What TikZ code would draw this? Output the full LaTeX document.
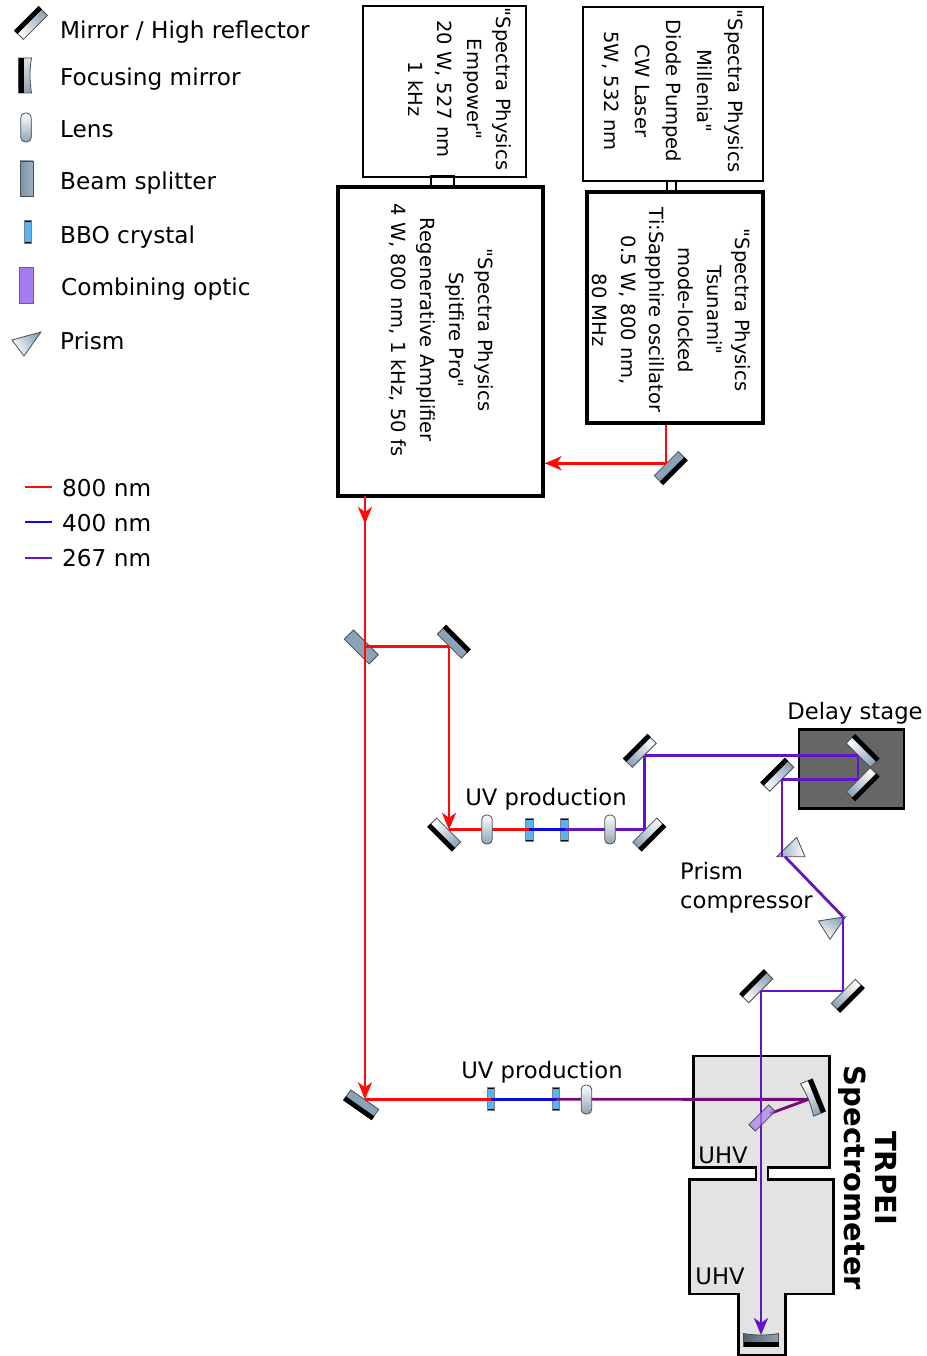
\documentclass[tikz,border=0pt]{standalone}
\usepackage{fontspec}
\setmainfont[Ligatures=TeXOff]{DejaVu Sans}
\usetikzlibrary{positioning, arrows.meta, calc}
\definecolor{steel}{HTML}{8BA3B6}
\definecolor{beamred}{HTML}{FF0A0A}
\definecolor{beamblue}{HTML}{0A0AE6}
\definecolor{beamviolet}{HTML}{6414C8}
\definecolor{beamplum}{HTML}{780A78}
\definecolor{crystal}{HTML}{55B5F5}
\definecolor{combiner}{HTML}{A67CF0}
\definecolor{chamber}{HTML}{E3E3E3}
\definecolor{stage}{HTML}{666666}
\tikzset{
  optic/.style={rectangle, inner sep=0pt, draw=black!70, line width=.8pt},
  hrflat/.style={optic, minimum width=34pt, minimum height=12.5pt, anchor=north, fill=steel, rotate=#1},
  hr/.style 2 args={optic, minimum width=34pt, minimum height=12.5pt, anchor=north, top color=steel, bottom color=white, shading angle=#2, rotate=#1},
  splitter/.style={optic, minimum width=35pt, minimum height=13pt, fill=steel, rotate=#1},
  lens/.style={optic, minimum width=10.5pt, minimum height=29pt, rounded corners=4.5pt, top color=white, bottom color=steel},
  bbo/.style={optic, draw=black!50, minimum width=7.5pt, minimum height=23pt, fill=crystal, path picture={
    \draw[black, line width=3pt] (path picture bounding box.north west) -- (path picture bounding box.north east);
    \draw[black, line width=3pt] (path picture bounding box.south west) -- (path picture bounding box.south east);}},
  combine/.style={optic, minimum width=28pt, minimum height=9pt, fill=combiner, fill opacity=.7},
  prism/.style={draw=black!70, line width=.8pt, top color=steel, bottom color=white, shading angle=#1},
  box/.style={draw, line width=#1, inner sep=0pt},
  caption/.style={font=\fontsize{22.7}{29}\selectfont, inner sep=0pt},
  keytext/.style={font=\fontsize{23.2}{29}\selectfont, inner sep=0pt, anchor=west},
  lasertext/.style={font=\fontsize{19.5}{#1}\selectfont, inner sep=0pt, rotate=-90, align=center},
  beam/.style={line width=2.8pt, #1},
  tip/.style={-{Stealth[length=17pt, width=14pt, inset=5pt]}},
  focusing/.pic={
    \draw[draw=black!70, line width=.8pt, shade, #1]
      (-6.5,-17.5) -- (6.5,-17.5) .. controls (4.5,-6) and (4.5,6) .. (6.5,17.5) -- (-6.5,17.5) -- cycle;
    \fill[black] (-6.5,-17.5) rectangle (-1.5,17.5);
    \coordinate (-face) at (5,0);
  },
}
\begin{document}
\begin{tikzpicture}[x=1pt, y=-1pt]
  \useasboundingbox (0,0) rectangle (926,1356);
  % legend
  \node[hr={-135}{-45}, anchor=center] (keymirror) at (31,23) {};
  \pic (keyfocus) at (25,75.5) {focusing={top color=steel!30, bottom color=steel}};
  \node[lens] (keylens) at (26,127.5) {};
  \node[splitter=0, minimum width=13pt, minimum height=35pt, left color=steel!90!black, right color=steel!85] (keysplit) at (26.5,178.5) {};
  \node[bbo] (keybbo) at (28,232) {};
  \node[combine, minimum width=14pt, minimum height=36pt, fill opacity=1, draw=black!60] (keycomb) at (26,285) {};
  \path[prism=-60] (12,340) -- (41,332) -- (24,356) -- cycle;
  \node[keytext] (labmirror) at (60,32) {Mirror / High reflector};
  \node[keytext] (labfocus) at (60,79) {Focusing mirror};
  \node[keytext] (lablens) at (60,129) {Lens};
  \node[keytext] (labsplit) at (60,183) {Beam splitter};
  \node[keytext] (labbbo) at (60,237) {BBO crystal};
  \node[keytext] (labcomb) at (61,289) {Combining optic};
  \node[keytext] (labprism) at (60,341) {Prism};
  \coordinate (redkey) at (25,487);
  \coordinate (bluekey) at (25,522);
  \coordinate (violetkey) at (25,558);
  \node[keytext] (labred) at (62,488) {800 nm};
  \node[keytext] (labblue) at (62,523) {400 nm};
  \node[keytext] (labviolet) at (62,558) {267 nm};
  \draw[beam=beamred] (redkey) -- ++(27,0);
  \draw[beam=beamblue] (bluekey) -- ++(27,0);
  \draw[beam=beamviolet] (violetkey) -- ++(27,0);

  % lasers
  \node[box=2pt, minimum width=23pt, minimum height=11pt] (pumplink) at (442.5,182) {};
  \node[box=2pt, minimum width=9pt, minimum height=12pt] (seedlink) at (671.5,187) {};
  \node[box=2.2pt, minimum width=163pt, minimum height=171pt] (empower) at (444.5,91.5) {};
  \node[box=2.2pt, minimum width=180pt, minimum height=174pt] (millenia) at (673,94) {};
  \node[box=3.2pt, minimum width=205pt, minimum height=309pt] (spitfire) at (440.5,341.5) {};
  \node[box=3.2pt, minimum width=176pt, minimum height=231pt] (tsunami) at (675,307.5) {};
  \node[lasertext=29.3] (empowertext) at (460,89) {"Spectra Physics\\Empower"\\20 W, 527 nm\\1 kHz};
  \node[lasertext=31] (milleniatext) at (673,91) {"Spectra Physics\\Millenia"\\Diode Pumped\\CW Laser\\5W, 532 nm};
  \node[lasertext=29] (spitfiretext) at (441,330) {"Spectra Physics\\Spitfire Pro"\\Regenerative Amplifier\\4 W, 800 nm, 1 kHz, 50 fs};
  \node[lasertext=28.6] (tsunamitext) at (671.5,310) {"Spectra Physics\\Tsunami"\\mode-locked\\Ti:Sapphire oscillator\\0.5 W, 800 nm,\\80 MHz};

  % vacuum chambers and delay stage
  \path[draw, line width=2.4pt, fill=chamber] (693.5,1056) -- (829.5,1056) -- (829.5,1167.5) -- (768,1167.5) -- (768,1179.5)
    -- (833.5,1179.5) -- (833.5,1294) -- (785.5,1294) -- (785.5,1355) -- (738.5,1355) -- (738.5,1294)
    -- (689.5,1294) -- (689.5,1179.5) -- (756,1179.5) -- (756,1167.5) -- (693.5,1167.5) -- cycle;
  \node[box=2.4pt, fill=stage, minimum width=105pt, minimum height=79pt] (delay) at (851.5,769) {};

  % mirrors
  \node[hrflat=45] (seedfold) at (666,463.3) {};
  \node[splitter=-45] (split) at (361.3,647) {};
  \node[hrflat=135] (uvfold) at (449,646.5) {};
  \node[hr={-45}{-135}] (uvin) at (449,829.8) {};
  \node[hr={45}{135}] (uvout) at (644.5,829.8) {};
  \node[hr={-135}{135}] (topfold) at (644.5,755.6) {};
  \node[hr={135}{-135}] (retroa) at (858,755.6) {};
  \node[hr={45}{135}] (retrob) at (858,779.5) {};
  \node[hr={-135}{-45}] (stageout) at (782,779.5) {};
  \node[hr={45}{135}] (compa) at (843,991) {};
  \node[hr={-135}{-45}] (compb) at (761,991) {};
  \node[hrflat=-35] (vmifold) at (365,1099.3) {};
  \foreach \m in {keymirror, seedfold, uvfold, uvin, uvout, topfold, retroa, retrob, stageout, compa, compb, vmifold}
    \fill[black] (\m.south west) -- (\m.south east) -- ($(\m.south east)!.36!(\m.north east)$) -- ($(\m.south west)!.36!(\m.north west)$) -- cycle;
  \pic[rotate=202] (focusa) at (813,1097.5) {focusing={top color=white, bottom color=steel, shading angle=20}};
  \pic[rotate=90] (focusb) at (761,1340) {focusing={left color=steel!60!black, middle color=white, right color=steel}};

  % prisms
  \coordinate (prismain) at (782,856.7);
  \coordinate (prismaout) at (785,856.7);
  \coordinate (prismbin) at (843,916.7);
  \path[prism=90] (776.7,856.7) -- (796.7,837.3) -- (805,856.7) -- cycle;
  \path[prism=-30] (818.3,921) -- (845.7,916.7) -- (830,939.3) -- cycle;

  % beams
  \coordinate (spitfireout) at (365,496);
  \coordinate (splitspot) at (365,646.5);
  \coordinate (combinespot) at (762,1118);
  \coordinate (combineface) at (770,1113.5);
  \draw[beam=beamred] (tsunami.south -| seedfold.north) -- (seedfold.north);
  \draw[beam=beamred, tip] (seedfold.north) -- (seedfold.north -| spitfire.east);
  \draw[beam=beamred, tip] (spitfireout) -- ++(0,28);
  \draw[beam=beamred] (spitfireout) -- (splitspot);
  \draw[beam=beamred] (splitspot) -- (uvfold.north);
  \draw[beam=beamred, tip] (uvfold.north) -- (uvin.north);
  \draw[beam=beamred, tip] (splitspot) -- (vmifold.north);
  \node[bbo] (bboa) at (529.3,829.8) {};
  \node[bbo] (bbob) at (564.5,829.8) {};
  \draw[beam=beamred] (uvin.north) -- (bboa.center);
  \draw[beam=beamblue] (bboa.center) -- (bbob.center);
  \draw[beam=beamviolet] (bbob.center) -- (uvout.north);
  \draw[beam=beamviolet] (uvout.north) -- (topfold.north);
  \draw[beam=beamviolet] (topfold.north) -- (retroa.north);
  \draw[beam=beamviolet] (retroa.north) -- (retrob.north);
  \draw[beam=beamviolet] (retrob.north) -- (stageout.north);
  \draw[beam=beamviolet] (stageout.north) -- (prismain);
  \draw[beam=beamviolet] (prismaout) -- (prismbin);
  \draw[beam=beamviolet] (prismbin) -- (compa.north);
  \draw[beam=beamviolet] (compa.north) -- (compb.north);
  \node[bbo] (bboc) at (491,1099.3) {};
  \node[bbo] (bbod) at (556,1099.3) {};
  \draw[beam=beamred] (vmifold.north) -- (bboc.center);
  \draw[beam=beamblue] (bboc.center) -- (bbod.center);
  \draw[beam=beamplum] (bbod.center) -- (focusa-face);
  \draw[beam=beamplum] (focusa-face) -- (combineface);
  \draw[beam=beamviolet, tip] (compb.north) -- (focusb-face);
  \node[combine, rotate=45] (combiner) at (combinespot) {};
  \node[lens] (lensa) at (487,829.5) {};
  \node[lens] (lensb) at (610,829.5) {};
  \node[lens] (lensc) at (586.4,1099.5) {};

  % labels
  \node[caption] (uvtexta) at (546,799) {UV production};
  \node[caption] (uvtextb) at (542,1072) {UV production};
  \node[caption] (delaytext) at (855,713) {Delay stage};
  \node[caption, align=left, anchor=north west] (prismtext) at (680,862) {Prism\\compressor};
  \node[caption] (uhva) at (723,1155) {UHV};
  \node[caption] (uhvb) at (720,1276) {UHV};
  \node[inner sep=0pt, rotate=-90, align=center, font=\fontsize{29}{31}\selectfont\bfseries] (trpei) at (868,1178) {TRPEI\\Spectrometer};
\end{tikzpicture}
\end{document}
